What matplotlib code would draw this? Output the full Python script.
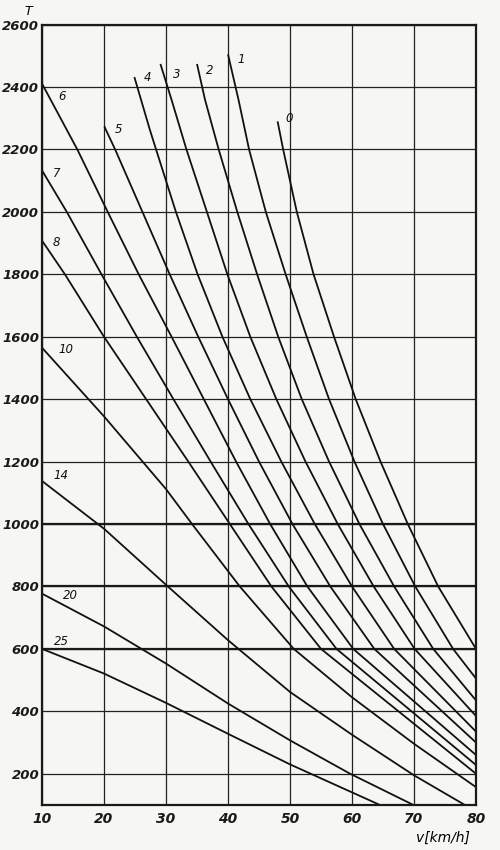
import matplotlib.pyplot as plt

# ── data: (v [km/h], T) points per curve ────────────────────────────────────

curve_0 = [(48, 2290), (48.9, 2200), (50, 2100), (51.1, 2000), (53.8, 1800),
           (57.1, 1600), (60.6, 1400), (64.6, 1200), (69.0, 1000),
           (73.9, 800), (80, 600)]
curve_1 = [(40, 2505), (41.7, 2359), (43.4, 2200), (46.1, 2000), (49.3, 1800),
           (52.7, 1600), (56.3, 1400), (60.4, 1200), (65.0, 1000),
           (70.2, 800), (76.3, 600), (80, 505)]
curve_2 = [(35, 2474), (36.3, 2359), (38.5, 2200), (41.5, 2000), (44.7, 1800),
           (48.1, 1600), (51.9, 1400), (56.3, 1200), (61.2, 1000),
           (66.8, 800), (73.1, 600), (80, 435)]
curve_3 = [(29.1, 2474), (30.9, 2359), (33.3, 2200), (36.6, 2000),
           (39.9, 1800), (43.6, 1600), (47.8, 1400), (52.5, 1200),
           (57.7, 1000), (63.5, 800), (70.1, 600), (80, 385)]
curve_4 = [(24.9, 2432), (27.4, 2263), (28.4, 2200), (31.6, 2000),
           (35.1, 1800), (39.1, 1600), (43.6, 1400), (48.6, 1200),
           (54.0, 1000), (60.0, 800), (66.8, 600), (80, 335)]
curve_5 = [(20.05, 2274), (21.8, 2200), (26.2, 2000), (30.6, 1800),
           (35.2, 1600), (40.0, 1400), (45.0, 1200), (50.4, 1000),
           (56.5, 800), (63.6, 600), (80, 300)]
curve_6 = [(10, 2411), (15.7, 2200), (20.6, 2000), (25.6, 1800), (30.9, 1600),
           (36.1, 1400), (41.3, 1200), (46.8, 1000), (52.8, 800), (60.2, 600),
           (80, 260)]
curve_7 = [(10, 2133), (14.0, 2000), (19.6, 1800), (25.3, 1600), (31.2, 1400),
           (37.2, 1200), (43.3, 1000), (49.8, 800), (57.5, 600), (80, 228)]
curve_8 = [(10, 1908), (13.7, 1800), (20, 1600), (26.8, 1400), (33.6, 1200),
           (40.3, 1000), (47.0, 800), (55.0, 600), (80, 200)]
curve_10 = [(10, 1565), (20, 1345), (30, 1112), (34.2, 1000),
            (41.9, 800), (50.6, 600), (60, 445), (70, 296), (80, 157)]
curve_14 = [(10, 1138), (20, 985), (30.3, 800), (40, 628), (50, 462),
            (60, 325), (70, 195), (78.2, 100)]
curve_20 = [(10, 777), (20, 672), (30, 553), (40, 425), (50, 307),
            (59.7, 200), (69.9, 100)]
curve_25 = [(10, 600), (20, 521), (30, 427), (40, 328), (50, 230),
            (64.5, 100)]

curve_names = ["0", "1", "2", "3", "4", "5", "6", "7", "8", "10", "14", "20", "25"]
curves = [curve_0, curve_1, curve_2, curve_3, curve_4, curve_5, curve_6,
          curve_7, curve_8, curve_10, curve_14, curve_20, curve_25]

# label anchor points (v, T)
label_pos = [(49.3, 2300), (41.5, 2488), (36.4, 2452), (31.1, 2440),
             (26.4, 2432), (21.7, 2263), (12.6, 2370), (11.7, 2124),
             (11.7, 1902), (12.6, 1558), (11.9, 1154), (13.3, 770),
             (11.9, 625)]

x_ticks = [10, 20, 30, 40, 50, 60, 70, 80]
y_ticks = [200, 400, 600, 800, 1000, 1200, 1400, 1600, 1800, 2000, 2200,
           2400, 2600]

# ── plot ─────────────────────────────────────────────────────────────────

FONT = "DejaVu Sans"
PAPER = "#f6f6f3"

fig = plt.figure(figsize=(5, 8.5), dpi=100, facecolor=PAPER)
ax = fig.add_axes([0.084, 0.053, 0.868, 0.918], facecolor=PAPER)

ax.set_xlim(10, 80)
ax.set_ylim(100, 2600)
ax.set_xticks(x_ticks)
ax.set_yticks(y_ticks)
ax.set_xticklabels([str(t) for t in x_ticks], fontsize=10, style="italic",
                   fontweight="bold", family=FONT)
ax.set_yticklabels([str(t) for t in y_ticks], fontsize=9.5, style="italic",
                   fontweight="bold", family=FONT)
ax.tick_params(length=0, pad=2, colors="#1a1a1a")
ax.tick_params(axis="x", pad=5)

ax.grid(True, color="#222222", linewidth=0.9)
for thick in (600, 800, 1000):
    ax.axhline(thick, color="#1a1a1a", linewidth=1.6)
for s in ax.spines.values():
    s.set_linewidth(1.6)
    s.set_color("#1a1a1a")

for pts in curves:
    vs = [p[0] for p in pts]
    ts = [p[1] for p in pts]
    ax.plot(vs, ts, color="#111111", linewidth=1.3, solid_capstyle="butt",
            solid_joinstyle="round")

for name, (lv, lt) in zip(curve_names, label_pos):
    ax.text(lv, lt, name, fontsize=8.5, style="italic", family=FONT,
            ha="left", va="center", color="#111111")

fig.text(0.056, 0.986, "T", fontsize=9, style="italic", family=FONT,
         ha="center", va="center")
fig.text(0.885, 0.014, "v[km/h]", fontsize=10, style="italic", family=FONT,
         ha="center", va="center")

fig.savefig("out.png", dpi=100, facecolor=PAPER)
